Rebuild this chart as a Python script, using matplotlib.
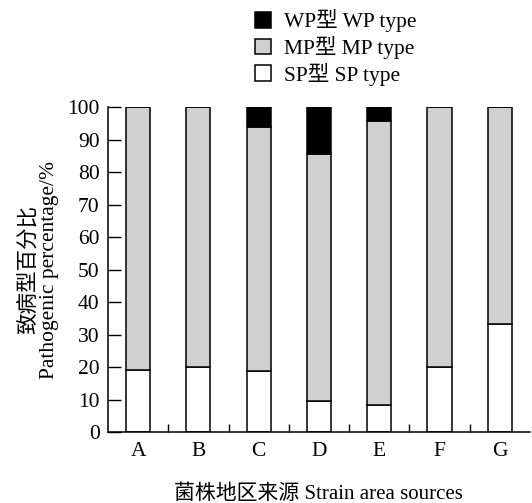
import matplotlib.pyplot as plt
import numpy as np

plt.rcParams['font.family'] = ['Liberation Serif', 'Noto Sans CJK SC']

regions = ['A', 'B', 'C', 'D', 'E', 'F', 'G']
sp = [19.2, 20.0, 18.75, 9.52, 8.33, 20.0, 33.3]
mp = [80.8, 80.0, 75.0, 76.19, 87.5, 80.0, 66.7]
wp = [0, 0, 6.25, 14.29, 4.17, 0, 0]

x = np.arange(len(regions))
sp = np.array(sp)
mp = np.array(mp)
wp = np.array(wp)

fig = plt.figure(figsize=(5.32, 5.03), dpi=100)
ax = fig.add_axes([0.203, 0.141, 0.793, 0.646])

w = 0.4
b1 = ax.bar(x, sp, w, color='white', edgecolor='black', linewidth=1.1, label='SP型 SP type')
b2 = ax.bar(x, mp, w, bottom=sp, color='#d0d0d0', edgecolor='black', linewidth=1.1, label='MP型 MP type')
b3 = ax.bar(x, wp, w, bottom=sp + mp, color='black', edgecolor='black', linewidth=1.1, label='WP型 WP type')

ax.set_xlim(-0.5, 6.5)
ax.set_ylim(0, 100)
ax.set_yticks(np.arange(0, 101, 10))
ax.set_xticks(x)
ax.set_xticklabels(regions)
ax.set_xticks(x[:-1] + 0.5, minor=True)
ax.tick_params(axis='x', which='major', length=0, labelsize=15.5, pad=7)
ax.tick_params(axis='x', which='minor', direction='in', length=6, width=1)
ax.tick_params(axis='y', direction='in', length=9, width=1, labelsize=15.5, pad=6)
for s in ['top', 'right']:
    ax.spines[s].set_visible(False)
for s in ['left', 'bottom']:
    ax.spines[s].set_linewidth(1.1)

ax.set_xlabel('菌株地区来源 Strain area sources', fontsize=15, labelpad=17)
ax.set_ylabel('致病型百分比\nPathogenic percentage/%', fontsize=15.5, labelpad=6, linespacing=1.1)

fig.legend(handles=[b3, b2, b1], loc='upper left', bbox_to_anchor=(0.443, 1.02),
           frameon=False, fontsize=15.5, handlelength=0.75, handleheight=0.75,
           handletextpad=0.6, labelspacing=0.17)

fig.savefig('out.png', dpi=100)
